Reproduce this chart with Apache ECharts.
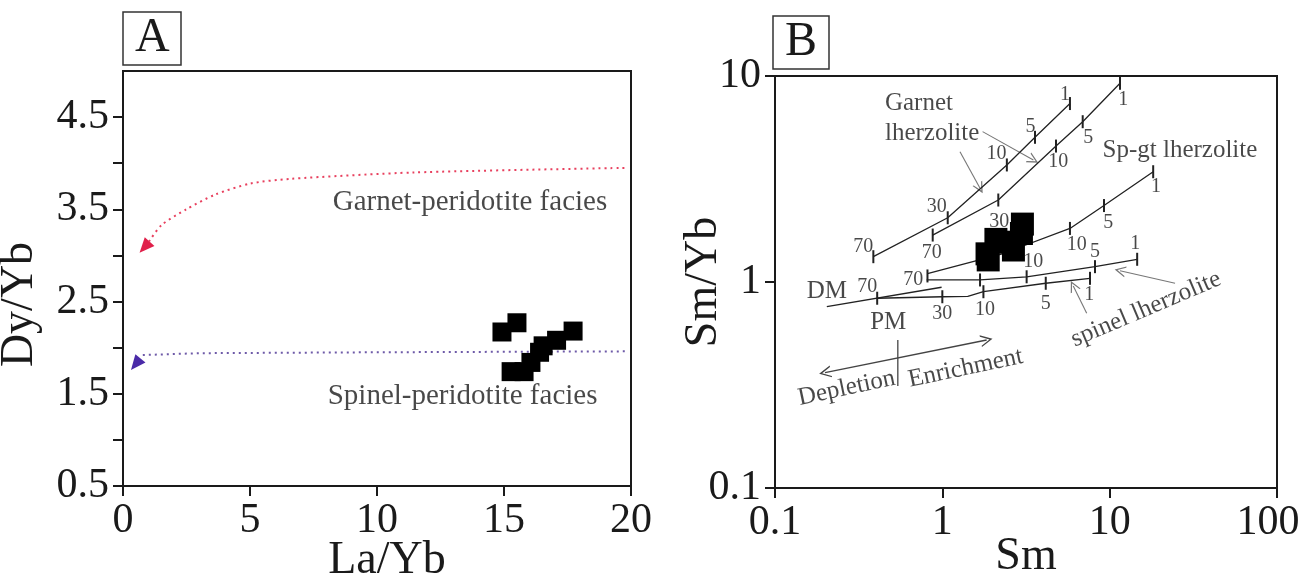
<!DOCTYPE html>
<html><head><meta charset="utf-8">
<script src="https://cdn.jsdelivr.net/npm/echarts@6/dist/echarts.min.js"></script>
<style>html,body{margin:0;padding:0;background:#fff}#c{width:1301px;height:575px}</style>
</head><body><div id="c"></div>
<script>
const FONT = "'Liberation Serif','Times New Roman',serif";

// ---------- Panel A data ----------
const aXTicks = [0, 5, 10, 15, 20];
const aYTicks = [0.5, 1, 1.5, 2, 2.5, 3, 3.5, 4, 4.5];
const aYLabels = [0.5, 1.5, 2.5, 3.5, 4.5];
const aSamples = [[14.92,2.17],[15.51,2.27],[17.72,2.18],[17.07,2.08],[16.54,2.02],[16.40,1.95],[16.06,1.84],[15.79,1.74],[15.28,1.74]];
const garnetTrend = [[1.02,3.15],[1.52,3.33],[2.49,3.50],[3.63,3.66],[5.02,3.78],[6.57,3.83],[11.46,3.90],[19.86,3.95]];
const garnetArrowHead = [[0.85,3.09]];
const spinelTrend = [[0.78,1.92],[3,1.94],[10,1.95],[19.86,1.96]];
const spinelArrowHead = [[0.50,1.82]];
const aTexts = [
  {name: 'Garnet-peridotite facies', value: [13.66, 3.58]},
  {name: 'Spinel-peridotite facies', value: [13.37, 1.47]}
];

// ---------- Panel B data ----------
const bXTicks = [0.1, 1, 10, 100];
const bYTicks = [0.1, 1, 10];
const bSamples = [[3.01,1.91],[2.97,1.72],[2.09,1.61],[2.31,1.56],[2.66,1.43],[1.85,1.37],[1.88,1.28]];
const garnetMeltPM = [[0.387,1.327],[1.077,2.05],[2.43,3.70],[3.58,5.04],[5.79,7.35]];
const garnetMeltDM = [[0.876,1.69],[2.16,2.50],[4.78,4.57],[6.90,6.00],[11.53,9.22]];
const spgtMelt = [[0.815,1.097],[2.31,1.375],[5.79,1.82],[9.25,2.35],[18.2,3.43]];
const spinelMeltDM = [[0.806,1.023],[1.68,1.023],[3.19,1.06],[8.17,1.187],[14.6,1.289]];
const spinelMeltPM = [[0.408,0.834],[1.0,0.848],[1.42,0.852],[1.76,0.897],[4.15,0.986],[7.63,1.042]];
const mantleArray = [[0.204,0.759],[0.99,0.943]];
const meltTicks = [
  [0.387,1.327],[1.077,2.05],[2.43,3.70],[3.58,5.04],[5.79,7.35],
  [0.876,1.69],[2.16,2.50],[4.78,4.57],[6.90,6.00],[11.53,9.22],
  [0.815,1.07],[2.31,1.375],[5.79,1.82],[9.25,2.35],[18.2,3.43],
  [1.68,1.023],[3.19,1.06],[8.17,1.187],[14.6,1.289],
  [0.408,0.834],[1.0,0.848],[1.76,0.897],[4.15,0.986],[7.63,1.042]
];
const meltLabels = [
  {name:'70', value:[0.337,1.48]},{name:'30', value:[0.926,2.32]},{name:'10', value:[2.11,4.18]},{name:'5', value:[3.37,5.67]},{name:'1', value:[5.41,8.09]},
  {name:'70', value:[0.864,1.38]},{name:'30', value:[2.19,1.96]},{name:'10', value:[4.93,3.84]},{name:'5', value:[7.45,5.04]},{name:'1', value:[12.06,7.65]},
  {name:'10', value:[6.35,1.51]},{name:'5', value:[9.82,1.93]},{name:'1', value:[18.9,2.90]},
  {name:'70', value:[0.671,1.02]},{name:'10', value:[3.50,1.25]},{name:'5', value:[8.17,1.40]},{name:'1', value:[14.2,1.54]},
  {name:'70', value:[0.356,0.949]},{name:'30', value:[1.0,0.705]},{name:'10', value:[1.80,0.731]},{name:'5', value:[4.15,0.782]},{name:'1', value:[7.55,0.865]}
];
const bTextsLeft = [
  {name:'Garnet', value:[0.454,7.37]},
  {name:'lherzolite', value:[0.454,5.27]}
];
const bTexts = [
  {name:'Sp-gt lherzolite', value:[26.3,4.34]},
  {name:'DM', value:[0.204,0.897]},
  {name:'PM', value:[0.475,0.634]}
];
const bRotTexts = [
  {name:'Depletion', value:[0.268,0.305], rot:12},
  {name:'Enrichment', value:[1.38,0.381], rot:12},
  {name:'spinel lherzolite', value:[16.5,0.737], rot:23}
];
const bPointerArrows = [
  [[1.275,4.29],[1.68,2.85]],
  [[1.74,5.37],[3.50,3.91]],
  [[24.6,0.986],[11.53,1.135]],
  [[7.29,0.705],[6.06,0.957]]
];
const trendArrow = [[0.199,0.363],[1.84,0.523]];
const trendDivider = [[0.542,0.523],[0.542,0.313]];

const chevron = 'path://M0,10 L5,0 L10,10 L8.8,10 L5,2.6 L1.2,10 Z';

const axisCommon = {
  axisLine: {show: true, lineStyle: {color: '#1a1a1a', width: 2}},
  axisTick: {show: true, inside: false, length: 10, lineStyle: {color: '#1a1a1a', width: 2}},
  splitLine: {show: false},
  axisLabel: {color: '#1a1a1a', fontFamily: FONT, fontSize: 42},
  nameTextStyle: {color: '#1a1a1a', fontFamily: FONT, fontSize: 46},
  nameLocation: 'middle',
  nameMoveOverlap: false
};
const boxTitle = {borderColor: '#333', borderWidth: 1.5, padding: [2, 12, 3, 12],
  textStyle: {fontFamily: FONT, fontSize: 48, fontWeight: 'normal', color: '#1a1a1a', lineHeight: 46}};

const chart = echarts.init(document.getElementById('c'), null, {renderer: 'canvas'});
chart.setOption({
  backgroundColor: '#fff',
  animation: false,
  title: [
    Object.assign({text: 'A', left: 123, top: 13}, boxTitle),
    Object.assign({text: 'B', left: 773, top: 17}, boxTitle)
  ],
  grid: [
    {left: 123, top: 71, width: 508, height: 415, show: true, borderColor: '#1a1a1a', borderWidth: 2,
     backgroundColor: 'transparent', containLabel: false, outerBoundsMode: 'none'},
    {left: 775, top: 76, width: 502, height: 412, show: true, borderColor: '#1a1a1a', borderWidth: 2,
     backgroundColor: 'transparent', containLabel: false, outerBoundsMode: 'none'}
  ],
  xAxis: [
    Object.assign({}, axisCommon, {gridIndex: 0, type: 'value', min: 0, max: 20, interval: 5, name: 'La/Yb', nameGap: 52,
      nameTextStyle: Object.assign({}, axisCommon.nameTextStyle, {padding: [0, 0, 0, 20]}),
      axisTick: Object.assign({}, axisCommon.axisTick, {customValues: aXTicks}),
      axisLabel: Object.assign({}, axisCommon.axisLabel, {margin: 14, customValues: aXTicks})}),
    Object.assign({}, axisCommon, {gridIndex: 1, type: 'log', logBase: 10, min: 0.1, max: 100, name: 'Sm', nameGap: 46,
      axisTick: Object.assign({}, axisCommon.axisTick, {customValues: bXTicks}),
      axisLabel: Object.assign({}, axisCommon.axisLabel, {margin: 14, customValues: bXTicks,
        formatter: v => v === 100 ? '{m|100}' : String(v),
        rich: {m: {fontFamily: FONT, fontSize: 42, color: '#1a1a1a', padding: [0, 18, 0, 0]}}})})
  ],
  yAxis: [
    Object.assign({}, axisCommon, {gridIndex: 0, type: 'value', min: 0.5, max: 5, interval: 0.5, name: 'Dy/Yb', nameGap: 80,
      nameTextStyle: Object.assign({}, axisCommon.nameTextStyle, {padding: [0, 52, 0, 0]}),
      axisTick: Object.assign({}, axisCommon.axisTick, {customValues: aYTicks}),
      axisLabel: Object.assign({}, axisCommon.axisLabel, {margin: 14, customValues: aYLabels, formatter: v => v.toFixed(1)})}),
    Object.assign({}, axisCommon, {gridIndex: 1, type: 'log', logBase: 10, min: 0.1, max: 10, name: 'Sm/Yb', nameGap: 48,
      axisTick: Object.assign({}, axisCommon.axisTick, {customValues: bYTicks}),
      axisLabel: Object.assign({}, axisCommon.axisLabel, {margin: 14, customValues: bYTicks, formatter: v => String(v)})})
  ],
  series: [
    // ---- Panel A ----
    {type: 'line', xAxisIndex: 0, yAxisIndex: 0, data: garnetTrend, smooth: 0.25, symbol: 'none',
     lineStyle: {color: '#e8405e', width: 2, type: [2, 4]}},
    {type: 'line', xAxisIndex: 0, yAxisIndex: 0, data: spinelTrend, smooth: false, symbol: 'none',
     lineStyle: {color: '#6e5aa8', width: 2, type: [2, 4]}},
    {type: 'scatter', xAxisIndex: 0, yAxisIndex: 0, data: garnetArrowHead, symbol: 'triangle', symbolSize: [13, 15],
     symbolRotate: 138, itemStyle: {color: '#e0204a', opacity: 1}},
    {type: 'scatter', xAxisIndex: 0, yAxisIndex: 0, data: spinelArrowHead, symbol: 'triangle', symbolSize: [13, 15],
     symbolRotate: 141, itemStyle: {color: '#4a2aa8', opacity: 1}},
    {type: 'scatter', xAxisIndex: 0, yAxisIndex: 0, data: aSamples, symbol: 'rect', symbolSize: 19,
     itemStyle: {color: '#000', opacity: 1}, z: 5},
    {type: 'scatter', xAxisIndex: 0, yAxisIndex: 0, data: aTexts, symbolSize: 0,
     label: {show: true, position: 'inside', formatter: '{b}', fontFamily: FONT, fontSize: 29, color: '#1a1a1a'}},
    // ---- Panel B ----
    {type: 'line', xAxisIndex: 1, yAxisIndex: 1, data: garnetMeltPM, symbol: 'none', lineStyle: {color: '#222', width: 1.3}},
    {type: 'line', xAxisIndex: 1, yAxisIndex: 1, data: garnetMeltDM, symbol: 'none', lineStyle: {color: '#222', width: 1.3}},
    {type: 'line', xAxisIndex: 1, yAxisIndex: 1, data: spgtMelt, symbol: 'none', lineStyle: {color: '#222', width: 1.3}},
    {type: 'line', xAxisIndex: 1, yAxisIndex: 1, data: spinelMeltDM, symbol: 'none', lineStyle: {color: '#222', width: 1.3}},
    {type: 'line', xAxisIndex: 1, yAxisIndex: 1, data: spinelMeltPM, symbol: 'none', lineStyle: {color: '#222', width: 1.3}},
    {type: 'line', xAxisIndex: 1, yAxisIndex: 1, data: mantleArray, symbol: 'none', lineStyle: {color: '#222', width: 1.3}},
    {type: 'line', xAxisIndex: 1, yAxisIndex: 1, data: trendDivider, symbol: 'none', lineStyle: {color: '#444', width: 1.3}},
    {type: 'scatter', xAxisIndex: 1, yAxisIndex: 1, data: meltTicks, symbol: 'rect', symbolSize: [2, 13],
     itemStyle: {color: '#222', opacity: 1}},
    {type: 'lines', coordinateSystem: 'cartesian2d', xAxisIndex: 1, yAxisIndex: 1,
     data: bPointerArrows.map(c => ({coords: c})), symbol: ['none', chevron], symbolSize: 11,
     lineStyle: {color: '#777', width: 1.1, curveness: 0, opacity: 1}},
    {type: 'lines', coordinateSystem: 'cartesian2d', xAxisIndex: 1, yAxisIndex: 1,
     data: [{coords: trendArrow}], symbol: [chevron, chevron], symbolSize: 12,
     lineStyle: {color: '#444', width: 1.4, curveness: 0, opacity: 1}},
    {type: 'scatter', xAxisIndex: 1, yAxisIndex: 1, data: bSamples, symbol: 'rect', symbolSize: 23,
     itemStyle: {color: '#000', opacity: 1}, z: 5},
    {type: 'scatter', xAxisIndex: 1, yAxisIndex: 1, data: meltLabels, symbolSize: 0, z: 4,
     label: {show: true, position: 'inside', formatter: '{b}', fontFamily: FONT, fontSize: 20, color: '#1a1a1a'}},
    {type: 'scatter', xAxisIndex: 1, yAxisIndex: 1, data: bTextsLeft, symbolSize: 0,
     label: {show: true, position: 'inside', align: 'left', formatter: '{b}', fontFamily: FONT, fontSize: 25, color: '#1a1a1a'}},
    {type: 'scatter', xAxisIndex: 1, yAxisIndex: 1, data: bTexts, symbolSize: 0,
     label: {show: true, position: 'inside', formatter: '{b}', fontFamily: FONT, fontSize: 25, color: '#1a1a1a'}},
    {type: 'scatter', xAxisIndex: 1, yAxisIndex: 1, data: bRotTexts.map(t => ({name: t.name, value: t.value,
       label: {rotate: t.rot}})), symbolSize: 0,
     label: {show: true, position: 'inside', formatter: '{b}', fontFamily: FONT, fontSize: 25, color: '#1a1a1a'}}
  ]
});
</script></body></html>
